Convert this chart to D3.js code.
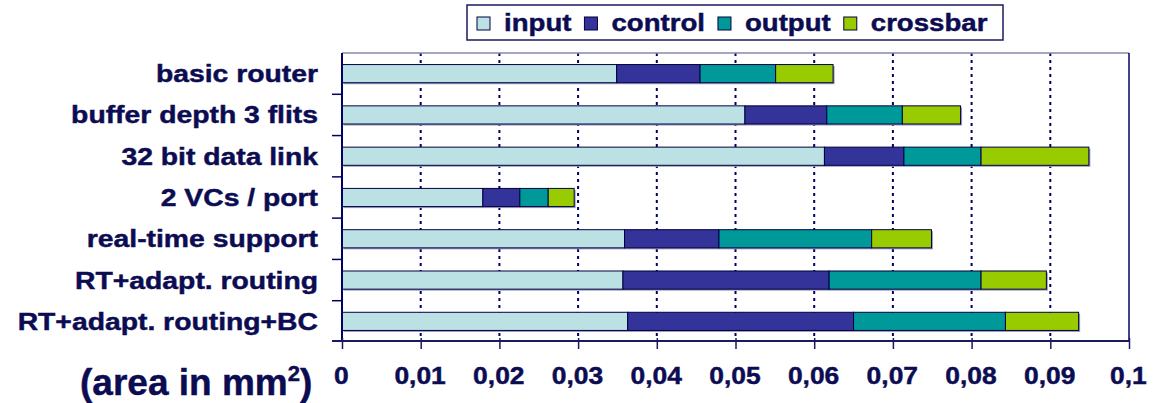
<!DOCTYPE html>
<html><head><meta charset="utf-8">
<script src="https://cdn.jsdelivr.net/npm/d3@7"></script>
<style>
html,body{margin:0;padding:0;background:#fff;}
svg{display:block;}
text{font-family:"Liberation Sans",Arial,sans-serif;font-weight:bold;fill:#0c0c52;stroke:#0c0c52;stroke-width:0.45px;}
</style></head>
<body>
<svg id="chart" width="1155" height="403"></svg>
<script>
const categories = ["basic router","buffer depth 3 flits","32 bit data link","2 VCs / port","real-time support","RT+adapt. routing","RT+adapt. routing+BC"];
const seriesNames = ["input","control","output","crossbar"];
const inputVals    = [0.0349,0.0512,0.0613,0.0179,0.0359,0.0357,0.0363];
const controlVals  = [0.0106,0.0104,0.0101,0.0047,0.0120,0.0262,0.0287];
const outputVals   = [0.0096,0.0096,0.0098,0.0036,0.0194,0.0193,0.0193];
const crossbarVals = [0.0073,0.0074,0.0137,0.0033,0.0076,0.0083,0.0093];
const tickValues = [0,0.01,0.02,0.03,0.04,0.05,0.06,0.07,0.08,0.09,0.1];
const tickLabels = ["0","0,01","0,02","0,03","0,04","0,05","0,06","0,07","0,08","0,09","0,1"];
const colors = ["#BCE1E4","#333399","#009999","#99CC00"];
const axisTitle = "(area in mm";

const navy = "#0c0c52";
const svg = d3.select("#chart");

const x = d3.scaleLinear().domain([0,0.1]).range([342,1129]);
const y = d3.scaleBand().domain(categories).range([53,342]).paddingInner(0.56).paddingOuter(0.28);
const color = d3.scaleOrdinal().domain(seriesNames).range(colors);

const rows = categories.map((c,i)=>({cat:c,input:inputVals[i],control:controlVals[i],output:outputVals[i],crossbar:crossbarVals[i]}));
const stacked = d3.stack().keys(seriesNames)(rows);

// gridlines
svg.append("g").selectAll("line").data(tickValues.filter(v=>v>0 && v<0.1)).join("line")
  .attr("x1",d=>x(d)).attr("x2",d=>x(d)).attr("y1",53).attr("y2",342)
  .attr("stroke","#000066").attr("stroke-width",2).attr("stroke-dasharray","3,4");

// frame top & right
svg.append("line").attr("x1",x(0)).attr("x2",x(0.1)).attr("y1",53).attr("y2",53).attr("stroke","#8888aa").attr("stroke-width",1.5);
svg.append("line").attr("x1",x(0.1)).attr("x2",x(0.1)).attr("y1",53).attr("y2",342).attr("stroke","#000066").attr("stroke-width",1.5);

// bar shadows
svg.append("g").selectAll("rect").data(rows).join("rect")
  .attr("x",x(0)+1.5).attr("y",d=>y(d.cat)+1.5)
  .attr("width",d=>x(d.input+d.control+d.output+d.crossbar)-x(0))
  .attr("height",y.bandwidth())
  .attr("fill","#9a9ac0");

// bars
svg.append("g").selectAll("g").data(stacked).join("g")
  .attr("fill",d=>color(d.key))
  .selectAll("rect").data(d=>d).join("rect")
  .attr("x",d=>x(d[0])).attr("y",d=>y(d.data.cat))
  .attr("width",d=>x(d[1])-x(d[0])).attr("height",y.bandwidth())
  .attr("stroke","#000040").attr("stroke-width",1);

// left axis
svg.append("line").attr("x1",x(0)).attr("x2",x(0)).attr("y1",53).attr("y2",342).attr("stroke","#000066").attr("stroke-width",2);
const step = y.step();
svg.append("g").selectAll("line").data(d3.range(1,categories.length)).join("line")
  .attr("x1",332).attr("x2",x(0)).attr("y1",k=>53+k*step).attr("y2",k=>53+k*step)
  .attr("stroke","#000066").attr("stroke-width",1.5);

// bottom axis
const xAxis = d3.axisBottom(x).tickValues(tickValues).tickFormat((d,i)=>tickLabels[i]).tickSize(8).tickPadding(14);
const gx = svg.append("g").attr("transform","translate(0,341)").call(xAxis);
gx.select(".domain").attr("stroke","#1a1a60").attr("stroke-width",2).attr("d",`M332,0H${x(0.1)}`);
gx.selectAll(".tick line").attr("stroke","#1a1a60").attr("stroke-width",1.5).attr("y1",-3);
gx.selectAll(".tick text").attr("font-size",24).attr("font-family","Liberation Sans, Arial, sans-serif")
  .attr("font-weight","bold").attr("fill",navy).attr("x",-1).attr("y",0).attr("dy",null)
  .attr("transform","translate(0,43) scale(1.1,1)");

// category labels
svg.append("g").selectAll("text").data(categories).join("text")
  .attr("transform",d=>`translate(318,${y(d)+y.bandwidth()/2+8.5}) scale(1.18,1)`)
  .attr("text-anchor","end").attr("font-size",24).text(d=>d);

// axis title
const title = svg.append("text").attr("transform",`translate(80,395)`).attr("font-size",37);
title.append("tspan").text(axisTitle);
title.append("tspan").attr("font-size",22).attr("dy",-14).text("2");
title.append("tspan").attr("dy",14).text(")");

// legend
const leg = svg.append("g");
leg.append("rect").attr("x",467).attr("y",5).attr("width",536).attr("height",35)
  .attr("fill","#fff").attr("stroke","#1a1a60").attr("stroke-width",1.5);
let lx = 477;
const LSX = 1.15;
seriesNames.forEach((s,i)=>{
  leg.append("rect").attr("x",lx).attr("y",17).attr("width",13).attr("height",13)
    .attr("fill",color(s)).attr("stroke","#000040").attr("stroke-width",1);
  const t = leg.append("text").attr("transform",`translate(${lx+27},31) scale(${LSX},1)`).attr("font-size",24).text(s);
  const w = t.node().getComputedTextLength()*LSX;
  lx = lx + 27 + w + 13;
});
</script>
</body></html>
